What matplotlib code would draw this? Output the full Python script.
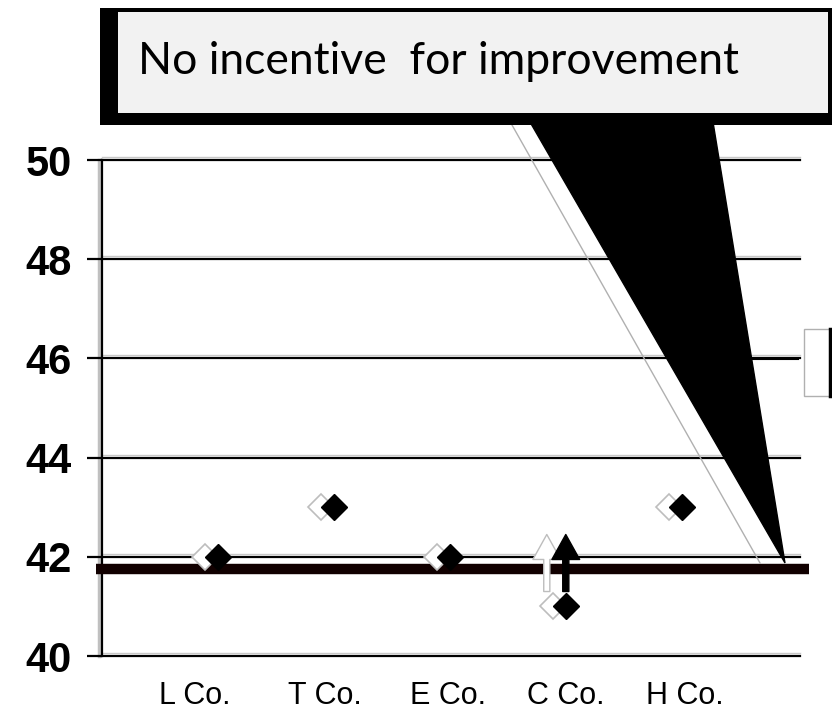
"""
Scores by company against the benchmark line, with a callout box.
"""

import matplotlib
matplotlib.use("Agg")
import matplotlib.pyplot as plt
import matplotlib.transforms as mtransforms
from matplotlib.patches import Rectangle, Polygon, FancyArrowPatch, ArrowStyle

companies = ["L Co.", "T Co.", "E Co.", "C Co.", "H Co."]
scores = [42, 43, 42, 41, 43]
benchmark = 41.75
y_ticks = [40, 42, 44, 46, 48, 50]
# C Co. pushed up past the benchmark
arrow_from = 41.3
arrow_to = 42.45
callout_text = "No incentive  for improvement"

fig = plt.figure(figsize=(8.32, 7.2), dpi=100)
ax = fig.add_axes([102 / 832, 64 / 720, 698 / 832, 496 / 720])

xs = list(range(1, len(companies) + 1))
label_pos = [0.80, 1.92, 2.98, 4.0, 5.03]
ax.set_xlim(0, 6.02)
ax.set_ylim(40, 50)

# ── Grid lines and axis ─────────────────────────────────
grid_shadow = mtransforms.offset_copy(ax.get_yaxis_transform(), fig=fig, y=3, units="dots")
for v in y_ticks:
    ax.plot([0, 1], [v, v], color="#c8c8c8", lw=1.0, zorder=1,
            transform=grid_shadow, clip_on=False)
    ax.axhline(v, color="black", lw=1.6, zorder=2, clip_on=False)
axis_shadow = mtransforms.offset_copy(ax.get_xaxis_transform(), fig=fig, x=-3, units="dots")
ax.plot([0, 0], [0, 1], color="#c0c0c0", lw=2.5, zorder=1,
        transform=axis_shadow, clip_on=False)

for side in ["top", "right", "bottom"]:
    ax.spines[side].set_visible(False)
ax.spines["left"].set_linewidth(1.6)
ax.spines["left"].set_zorder(3)

ax.set_yticks(y_ticks)
ax.set_yticklabels([str(v) for v in y_ticks], fontsize=30, fontweight="bold",
                   family=["Liberation Sans", "DejaVu Sans"])
ax.tick_params(axis="y", length=11, width=1.6, pad=11)
ax.set_xticks(label_pos)
ax.set_xticklabels(companies, fontsize=22, family=["Liberation Sans", "DejaVu Sans"])
ax.tick_params(axis="x", length=0, pad=18)

# ── Benchmark line ──────────────────────────────────────
ax.plot([-0.05, 6.1], [benchmark, benchmark], color="#110000", lw=7.5,
        solid_capstyle="butt", clip_on=False, zorder=4)

# ── Markers with a pale shadow on the left ──────────────
shadow = mtransforms.offset_copy(ax.transData, fig=fig, x=-13, units="dots")
ax.plot(xs, scores, "D", ms=13, mfc="white", mec="#bdbdbd", mew=1.2,
        transform=shadow, zorder=5, clip_on=False)
ax.plot(xs, scores, "D", ms=13, color="black", zorder=6, clip_on=False)

# Upward arrow for C Co.
ci = companies.index("C Co.")
style = ArrowStyle("simple", head_length=0.9, head_width=1.0, tail_width=0.22)
ghost = FancyArrowPatch((xs[ci], arrow_from), (xs[ci], arrow_to), arrowstyle=style,
                        mutation_scale=20, fc="white", ec="#bdbdbd", lw=1.0,
                        transform=mtransforms.offset_copy(ax.transData, fig=fig, x=-19, units="dots"),
                        zorder=5, shrinkA=0, shrinkB=0)
ax.add_patch(ghost)
arrow = FancyArrowPatch((xs[ci], arrow_from), (xs[ci], arrow_to), arrowstyle=style,
                        mutation_scale=20, fc="black", ec="black", lw=1.0,
                        zorder=6, shrinkA=0, shrinkB=0)
ax.add_patch(arrow)

# ── Callout (overlay in pixel coordinates) ──────────────
ov = fig.add_axes([0, 0, 1, 1])
ov.set_xlim(0, 832)
ov.set_ylim(720, 0)
ov.axis("off")

ov.plot([512, 760], [125, 563], color="#b0b0b0", lw=1.0, zorder=1)
ov.add_patch(Polygon([(530, 122), (713, 122), (785, 563)], closed=True,
                     fc="black", ec="black", lw=1, zorder=2))
ov.add_patch(Rectangle((100, 8), 740, 117, fc="black", ec="none", zorder=3))
ov.add_patch(Rectangle((118, 12), 710, 101, fc="#f2f2f2", ec="none", zorder=4))
ov.text(138, 62, callout_text, fontsize=32, family=["Lato", "DejaVu Sans"],
        va="center", ha="left", color="black", zorder=5)

# small side box hooked to the pointer
ov.plot([753, 798], [359, 359], color="black", lw=1.5, zorder=3)
ov.add_patch(Rectangle((804, 329), 40, 67, fc="white", ec="#b0b0b0", lw=1.0, zorder=3))
ov.plot([830, 830], [329, 396], color="black", lw=2.5, zorder=4)

fig.savefig("out.png", dpi=100)
plt.close(fig)
